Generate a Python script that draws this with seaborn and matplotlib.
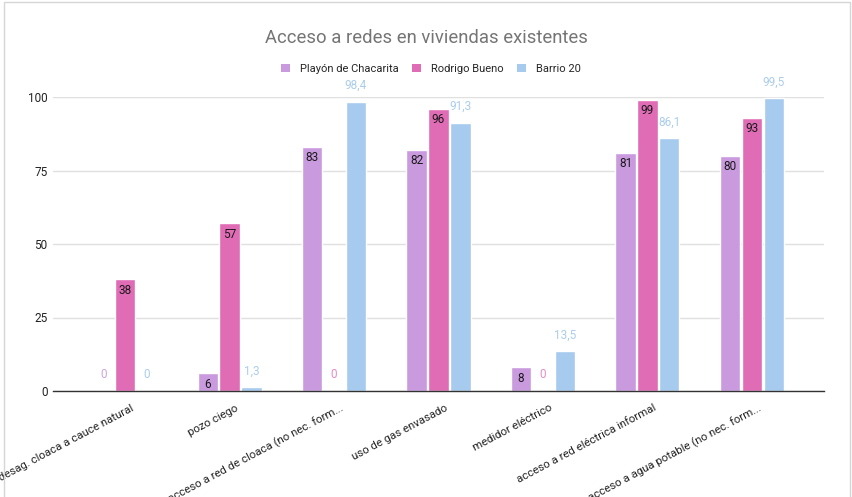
import pandas as pd
import numpy as np
import matplotlib
matplotlib.use("Agg")
import matplotlib.pyplot as plt
import matplotlib.transforms as mtransforms
from matplotlib.patches import Rectangle, Patch
import seaborn as sns

# ---------------------------------------------------------------------------
# Data
# ---------------------------------------------------------------------------
categories = [
    "desag. cloaca a cauce natural",
    "pozo ciego",
    "acceso a red de cloaca (no nec. form...",
    "uso de gas envasado",
    "medidor eléctrico",
    "acceso a red eléctrica informal",
    "acceso a agua potable (no nec. form...",
]
series_names = ["Playón de Chacarita", "Rodrigo Bueno", "Barrio 20"]
playon = [0, 6, 83, 82, 8, 81, 80]
rodrigo = [38, 57, 0, 96, 0, 99, 93]
barrio = [0, 1.3, 98.4, 91.3, 13.5, 86.1, 99.5]

colors = ["#c99ade", "#e06cb6", "#a6cbee"]
zero_colors = ["#caa6e0", "#e58cc4", "#aacdec"]

df = pd.DataFrame({
    "categoria": categories * 3,
    "serie": np.repeat(series_names, len(categories)),
    "valor": playon + rodrigo + barrio,
})

# ---------------------------------------------------------------------------
# Plot
# ---------------------------------------------------------------------------
sns.set_style("white")
plt.rcParams["font.family"] = ["Roboto", "DejaVu Sans"]

fig = plt.figure(figsize=(8.52, 4.97), dpi=100)
ax = fig.add_axes([53 / 852, 1 - 391 / 497, (824 - 53) / 852, (391 - 97) / 497])

sns.barplot(data=df, x="categoria", y="valor", hue="serie",
            palette=colors, order=categories, hue_order=series_names,
            width=0.63, gap=0.08, ax=ax, legend=False, saturation=1)

ax.set_xlim(-0.69, len(categories) - 1 + 0.69)
ax.set_ylim(0, 100)
ax.set_yticks([0, 25, 50, 75, 100])
ax.yaxis.grid(True, color="#e0e0e0", linewidth=1)
ax.set_axisbelow(True)
for s in ["top", "right", "left"]:
    ax.spines[s].set_visible(False)
ax.spines["bottom"].set_color("#333333")
ax.spines["bottom"].set_linewidth(1)
ax.tick_params(axis="y", length=0, labelsize=8.5, colors="#222222", pad=4)
ax.tick_params(axis="x", length=0, labelsize=8.2, colors="#222222", pad=7)
ax.set_xlabel("")
ax.set_ylabel("")
shift = mtransforms.ScaledTranslation(6 / 100, -2 / 100, fig.dpi_scale_trans)
for lbl in ax.get_xticklabels():
    lbl.set_rotation(28)
    lbl.set_ha("right")
    lbl.set_rotation_mode("anchor")
    lbl.set_transform(lbl.get_transform() + shift)

# data labels
for i, cont in enumerate(ax.containers):
    for bar in cont:
        v = bar.get_height()
        x = bar.get_x() + bar.get_width() / 2
        txt = f"{v:g}".replace(".", ",")
        if i < 2 and v > 0:
            ax.annotate(txt, (x, v), xytext=(0, -11), textcoords="offset pixels",
                        ha="center", va="center", fontsize=8.5, color="#1a1a1a")
        else:
            c = zero_colors[i]
            ax.annotate(txt, (x, v), xytext=(0, 16), textcoords="offset pixels",
                        ha="center", va="center", fontsize=8.5, color=c,
                        annotation_clip=False)

# title and legend
fig.text(0.5, 1 - 38 / 497, "Acceso a redes en viviendas existentes",
         ha="center", va="center", fontsize=13.3, color="#757575")
handles = [Patch(facecolor=c, edgecolor="none") for c in colors]
fig.legend(handles, series_names, loc="center", bbox_to_anchor=(431 / 852, 1 - 69 / 497),
           ncol=3, frameon=False, fontsize=8, handlelength=0.8, handleheight=0.8,
           columnspacing=1.2, handletextpad=0.9)

# card border
fig.patches.append(Rectangle((4 / 852, -0.05), 846 / 852, 1.05 - 2 / 497,
                             transform=fig.transFigure, fill=False,
                             edgecolor="#d6d6d6", linewidth=1))

fig.savefig("out.png", dpi=100)
